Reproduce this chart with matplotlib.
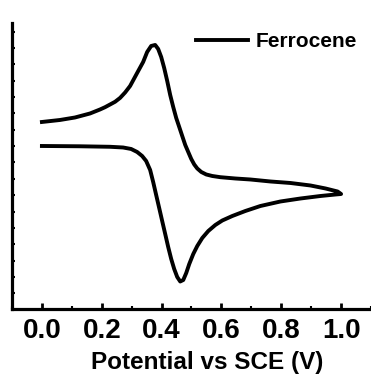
import matplotlib
matplotlib.use("Agg")
import matplotlib.pyplot as plt
from matplotlib.ticker import MultipleLocator

plt.rcParams['font.family'] = ['Liberation Sans', 'DejaVu Sans']
plt.rcParams['font.weight'] = 'bold'

# forward sweep 0.0 -> 1.0 V
E_fwd = [0.000, 0.1273, 0.2278, 0.2714, 0.2982, 0.3183, 0.3350, 0.3484, 0.3618, 0.3719,
         0.3819, 0.3920, 0.4020, 0.4121, 0.4221, 0.4322, 0.4422, 0.4523, 0.4623, 0.4724,
         0.4824, 0.4925, 0.5059, 0.5193, 0.5360, 0.5561, 0.5796, 0.6030, 0.6365, 0.6801,
         0.7303, 0.7973, 0.8643, 0.9313, 0.9816, 1.000]
I_fwd = [3.009, 2.991, 2.960, 2.917, 2.826, 2.642, 2.398, 2.092, 1.541, 0.807,
         0.012, -0.783, -1.578, -2.373, -3.168, -3.902, -4.514, -5.003, -5.278, -5.187,
         -4.758, -4.208, -3.596, -3.107, -2.618, -2.190, -1.823, -1.547, -1.272, -0.966,
         -0.661, -0.385, -0.202, -0.049, 0.043, 0.073]

# reverse sweep 1.0 -> 0.0 V
E_rev = [0.9883, 0.9481, 0.8978, 0.8308, 0.7638, 0.6968, 0.6466, 0.5963, 0.5695, 0.5494,
         0.5327, 0.5193, 0.5092, 0.4992, 0.4891, 0.4791, 0.4690, 0.4590, 0.4489, 0.4389,
         0.4288, 0.4188, 0.4087, 0.3987, 0.3886, 0.3786, 0.3652, 0.3518, 0.3384, 0.3183,
         0.2948, 0.2781, 0.2613, 0.2446, 0.2278, 0.2111, 0.1943, 0.1608, 0.1106, 0.0603,
         0.000]
I_rev = [0.226, 0.410, 0.593, 0.746, 0.838, 0.960, 1.021, 1.101, 1.174, 1.266,
         1.419, 1.633, 1.878, 2.214, 2.642, 3.070, 3.621, 4.171, 4.722, 5.394,
         6.128, 6.985, 7.780, 8.453, 8.942, 9.187, 9.125, 8.758, 8.147, 7.474,
         6.679, 6.281, 5.950, 5.713, 5.547, 5.382, 5.242, 4.997, 4.752, 4.599,
         4.477]

E = E_fwd + E_rev
I = I_fwd + I_rev

fig = plt.figure(figsize=(3.71, 3.74), dpi=100)
ax = fig.add_axes([12/371, 1-309/374, 1-12/371, (309-23)/374])

ax.plot(E, I, color='black', lw=2.8, solid_joinstyle='round', label='Ferrocene')

ax.set_xlim(-0.1, 1.1)
ax.set_ylim(-6.96, 10.53)

for s in ['top', 'right']:
    ax.spines[s].set_visible(False)
for s in ['left', 'bottom']:
    ax.spines[s].set_linewidth(2.3)

ax.xaxis.set_minor_locator(MultipleLocator(0.1))
ax.set_xticks([0.0, 0.2, 0.4, 0.6, 0.8, 1.0])
ax.set_xticklabels(['0.0', '0.2', '0.4', '0.6', '0.8', '1.0'])
ax.tick_params(axis='x', which='major', direction='in', length=4, width=2, pad=6.5, labelsize=20)
ax.tick_params(axis='x', which='minor', direction='in', length=2.5, width=1.5)

ax.yaxis.set_major_locator(MultipleLocator(1))
ax.tick_params(axis='y', which='major', direction='in', length=2.5, width=1.5, labelleft=False)

ax.set_xlabel('Potential vs SCE (V)', fontsize=17.5, fontweight='bold')
ax.xaxis.set_label_coords(0.543, -0.146)

leg = ax.legend(loc='upper left', bbox_to_anchor=(196/371, 1-32/374),
                bbox_transform=fig.transFigure, frameon=False, borderpad=0,
                borderaxespad=0, handlelength=2.5, handletextpad=0.35,
                prop={'size': 15, 'weight': 'bold'})

fig.savefig('out.png', dpi=100)
